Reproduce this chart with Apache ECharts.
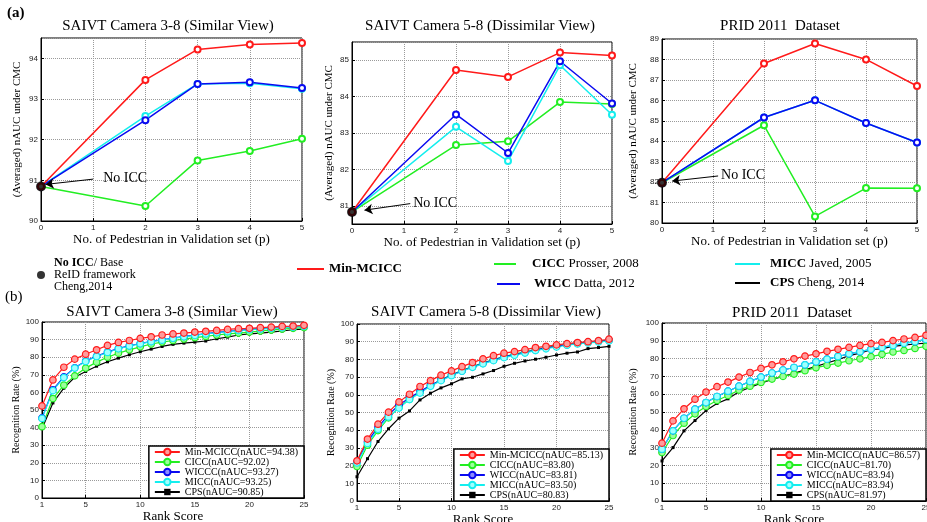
<!DOCTYPE html>
<html><head><meta charset="utf-8">
<script src="https://cdn.jsdelivr.net/npm/echarts@6/dist/echarts.min.js"></script>
<style>html,body{margin:0;padding:0;background:#fff}#c{width:927px;height:522px}</style>
</head><body><div id="c"></div>
<script>
// ---------- DATA ----------
const pValues = [0, 2, 3, 4, 5];
const ranks = [1, 2, 3, 4, 5, 6, 7, 8, 9, 10, 11, 12, 13, 14, 15, 16, 17, 18, 19, 20, 21, 22, 23, 24, 25];

const topTitles = ['SAIVT Camera 3-8 (Similar View)', 'SAIVT Camera 5-8 (Dissimilar View)', 'PRID 2011  Dataset'];
const bottomTitles = ['SAIVT Camera 3-8 (Similar View)', 'SAIVT Camera 5-8 (Dissimilar View)', 'PRID 2011  Dataset'];

// (a) nAUC vs number of pedestrians p
const simNoIcc = 90.85;
const simMin  = [90.85, 93.47, 94.22, 94.34, 94.38];
const simCicc = [90.85, 90.37, 91.49, 91.72, 92.02];
const simWicc = [90.85, 92.48, 93.37, 93.41, 93.27];
const simMicc = [90.85, 92.58, 93.37, 93.39, 93.25];

const disNoIcc = 80.83;
const disMin  = [80.83, 84.73, 84.54, 85.21, 85.13];
const disCicc = [80.83, 82.67, 82.77, 83.85, 83.80];
const disWicc = [80.83, 83.51, 82.45, 84.97, 83.81];
const disMicc = [80.83, 83.17, 82.23, 84.86, 83.50];

const pridNoIcc = 81.97;
const pridMin  = [81.97, 87.80, 88.78, 88.00, 86.70];
const pridCicc = [81.97, 84.78, 80.32, 81.71, 81.70];
const pridWicc = [81.97, 85.16, 86.00, 84.89, 83.94];
const pridMicc = [81.97, 85.16, 86.00, 84.89, 83.94];

// (b) CMC curves
const cmcSimNames = ['Min-MCICC(nAUC=94.38)', 'CICC(nAUC=92.02)', 'WICCC(nAUC=93.27)', 'MICC(nAUC=93.25)', 'CPS(nAUC=90.85)'];
const cmcSimMin  = [52.3, 67.1, 74.3, 78.9, 81.7, 84.2, 86.7, 88.4, 89.5, 90.7, 91.6, 92.6, 93.2, 93.7, 94.3, 94.7, 95.2, 95.8, 96.2, 96.4, 96.8, 97.1, 97.5, 97.7, 98.1];
const cmcSimCicc = [40.5, 56.5, 64.1, 69.4, 73.8, 77.2, 80.0, 82.3, 84.2, 85.9, 87.5, 88.6, 89.5, 90.3, 91.1, 91.8, 92.6, 93.2, 93.7, 94.3, 94.9, 95.4, 96.0, 96.4, 96.8];
const cmcSimWicc = [45.5, 61.5, 68.8, 74.0, 77.8, 80.6, 82.9, 85.0, 86.5, 87.8, 89.0, 89.9, 90.9, 91.8, 92.6, 93.4, 94.1, 94.7, 95.3, 95.8, 96.2, 96.6, 97.0, 97.3, 97.7];
const cmcSimMicc = [45.2, 61.0, 68.4, 73.8, 77.6, 80.4, 82.7, 84.8, 86.3, 87.6, 88.8, 89.7, 90.7, 91.6, 92.4, 93.2, 93.9, 94.5, 95.1, 95.6, 96.0, 96.4, 96.8, 97.1, 97.5];
const cmcSimCps  = [39.4, 54.0, 62.4, 68.6, 71.9, 74.9, 77.4, 79.5, 81.4, 83.1, 84.6, 86.1, 87.3, 88.0, 88.6, 89.2, 90.5, 91.4, 92.6, 93.2, 93.7, 94.3, 94.9, 95.6, 96.0];

const cmcDisNames = ['Min-MCICC(nAUC=85.13)', 'CICC(nAUC=83.80)', 'WICC(nAUC=83.81)', 'MICC(nAUC=83.50)', 'CPS(nAUC=80.83)'];
const cmcDisMin  = [22.7, 35.0, 43.4, 50.2, 56.0, 60.3, 64.7, 68.0, 71.1, 73.5, 75.9, 78.2, 80.3, 82.1, 83.5, 84.4, 85.5, 86.7, 87.4, 88.2, 88.9, 89.5, 90.0, 90.6, 91.4];
const cmcDisCicc = [19.5, 31.5, 39.8, 47.0, 53.0, 57.5, 61.5, 65.2, 68.5, 71.3, 73.8, 76.0, 78.0, 79.9, 81.6, 83.0, 84.3, 85.6, 86.7, 87.6, 88.4, 89.1, 89.7, 90.3, 90.9];
const cmcDisWicc = [22.0, 33.5, 41.7, 48.7, 54.3, 58.3, 61.8, 65.4, 68.4, 71.1, 73.5, 75.8, 77.8, 79.7, 81.4, 82.7, 84.0, 85.3, 86.5, 87.4, 88.3, 89.1, 89.7, 90.2, 90.8];
const cmcDisMicc = [21.5, 32.5, 40.5, 47.5, 52.5, 57.3, 61.0, 64.8, 68.0, 70.8, 73.3, 75.5, 77.5, 79.3, 81.0, 82.3, 83.6, 85.0, 86.0, 87.0, 88.0, 88.7, 89.3, 89.8, 90.4];
const cmcDisCps  = [13.7, 23.9, 33.6, 40.8, 46.8, 50.9, 57.1, 60.9, 63.9, 66.2, 69.0, 69.9, 71.8, 73.7, 76.1, 77.8, 79.1, 80.1, 81.2, 82.5, 83.5, 84.2, 86.1, 86.7, 87.4];

const cmcPridNames = ['Min-MCICC(nAUC=86.57)', 'CICC(nAUC=81.70)', 'WICC(nAUC=83.94)', 'MICC(nAUC=83.94)', 'CPS(nAUC=81.97)'];
const cmcPridMin  = [32.5, 45.0, 51.8, 57.2, 61.2, 64.2, 66.8, 69.6, 72.2, 74.5, 76.5, 78.2, 79.9, 81.4, 82.7, 84.1, 85.2, 86.3, 87.4, 88.4, 89.1, 90.1, 91.0, 91.9, 93.1];
const cmcPridCicc = [27.2, 36.8, 43.7, 49.0, 53.1, 56.5, 59.3, 62.3, 64.5, 66.6, 68.5, 70.0, 71.3, 73.2, 74.9, 76.2, 77.5, 78.8, 79.9, 81.1, 82.4, 83.7, 84.6, 85.7, 86.9];
const cmcPridWicc = [29.1, 39.4, 46.5, 51.6, 55.3, 58.7, 61.7, 64.5, 67.2, 69.6, 71.9, 73.6, 75.0, 76.5, 78.2, 79.7, 81.2, 82.7, 83.9, 85.2, 86.3, 87.4, 88.6, 89.5, 90.8];
const cmcPridMicc = [29.1, 39.4, 46.5, 51.6, 55.3, 58.7, 61.7, 64.5, 67.2, 69.6, 71.9, 73.6, 75.0, 76.5, 78.2, 79.7, 81.2, 82.7, 83.9, 85.2, 86.3, 87.4, 88.6, 89.5, 90.8];
const cmcPridCps  = [22.5, 30.0, 39.4, 45.2, 50.8, 54.8, 57.4, 61.4, 63.8, 66.2, 68.3, 70.0, 71.7, 73.7, 75.6, 77.5, 79.4, 81.6, 83.1, 85.0, 85.6, 86.9, 87.6, 88.2, 88.7];

// ---------- STYLE / LAYOUT ----------
const SERIF = '"Liberation Serif", "Times New Roman", serif';
const SANS = '"Liberation Sans", Arial, sans-serif';
const COL = {red: '#ff1a1a', green: '#22ee22', blue: '#0a0af0', cyan: '#14eeee', black: '#000000'};
const TINT = {red: '#ff9c9c', green: '#9cff9c', blue: '#8c8cff', cyan: '#a0ffff'};

const gridBoxes = [
  {left: 41, top: 38, width: 261, height: 183},
  {left: 352, top: 42, width: 260, height: 182},
  {left: 662, top: 39, width: 255, height: 184},
  {left: 42, top: 322, width: 262, height: 176},
  {left: 357, top: 324, width: 252, height: 177},
  {left: 662, top: 323, width: 264, height: 178}
];
const grid = gridBoxes.map(g => Object.assign({show: true, borderColor: '#000', borderWidth: 1, backgroundColor: '#fff', containLabel: false, outerBoundsMode: 'none'}, g));

function makeAxis(gi, o) {
  return {
    type: 'value', gridIndex: gi, min: o.min, max: o.max, interval: o.interval, splitNumber: o.splitNumber,
    name: o.name, nameLocation: 'middle', nameGap: o.nameGap,
    nameTextStyle: {fontFamily: SERIF, fontSize: o.nameSize, color: '#000'},
    axisLine: {show: true, onZero: false, lineStyle: {color: '#000', width: 1}},
    axisTick: {show: true, inside: true, length: 3, lineStyle: {color: '#000'}},
    axisLabel: {fontFamily: SANS, fontSize: 8, color: '#222', margin: 3,
      showMinLabel: o.showMin !== false, showMaxLabel: o.showMax !== false},
    splitLine: {show: true, lineStyle: {color: '#9a9a9a', type: 'dotted', width: 1}}
  };
}

const xAxis = [], yAxis = [];
const pName = 'No. of Pedestrian in Validation set (p)';
const aName = '(Averaged) nAUC under CMC';
[0, 1, 2].forEach(gi => xAxis.push(makeAxis(gi, {min: 0, max: 5, interval: 1, name: pName, nameGap: 11, nameSize: 13})));
yAxis.push(makeAxis(0, {min: 90, max: 94.5, interval: 1, name: aName, nameGap: 18, nameSize: 11, showMax: false}));
yAxis.push(makeAxis(1, {min: 80.5, max: 85.5, splitNumber: 5, name: aName, nameGap: 17, nameSize: 11, showMin: false, showMax: false}));
yAxis.push(makeAxis(2, {min: 80, max: 89, interval: 1, name: aName, nameGap: 23, nameSize: 11}));
[[3, 9], [4, 10], [5, 10]].forEach(([gi, g]) => xAxis.push(makeAxis(gi, {min: 1, max: 25, splitNumber: 5, name: 'Rank Score', nameGap: g, nameSize: 13})));
[[3, 21], [4, 20], [5, 24]].forEach(([gi, g]) => yAxis.push(makeAxis(gi, {min: 0, max: 100, interval: 10, name: 'Recognition Rate (%)', nameGap: g, nameSize: 10})));

// ---------- SERIES ----------
const series = [];
const topPlots = [
  {noIcc: simNoIcc, cicc: simCicc, micc: simMicc, wicc: simWicc, min: simMin, arrow: [[1.0, 91.03], [0.09, 90.9]], gap: 10},
  {noIcc: disNoIcc, cicc: disCicc, micc: disMicc, wicc: disWicc, min: disMin, arrow: [[1.12, 81.06], [0.24, 80.88]], gap: 3},
  {noIcc: pridNoIcc, cicc: pridCicc, micc: pridMicc, wicc: pridWicc, min: pridMin, arrow: [[1.1, 82.3], [0.2, 82.05]], gap: 3}
];
const topKeys = [['cicc', 'CICC', 'green'], ['micc', 'MICC', 'cyan'], ['wicc', 'WICC', 'blue'], ['min', 'Min-MCICC', 'red']];
topPlots.forEach((tp, gi) => {
  topKeys.forEach(([k, name, c]) => {
    series.push({
      type: 'line', name: name, xAxisIndex: gi, yAxisIndex: gi,
      data: pValues.map((x, i) => [x, tp[k][i]]),
      symbol: 'emptyCircle', symbolSize: 6, color: COL[c],
      lineStyle: {width: 1.5, color: COL[c]}, itemStyle: {color: COL[c], borderWidth: 1.3}
    });
  });
  series.push({
    type: 'scatter', name: 'No ICC', xAxisIndex: gi, yAxisIndex: gi,
    data: [[pValues[0], tp.noIcc]], symbolSize: 10, itemStyle: {color: '#000'}, z: 5,
    markLine: {
      silent: true, symbol: ['none', 'arrow'], symbolSize: 8,
      lineStyle: {color: '#000', width: 1, type: 'solid'},
      label: {show: true, position: 'start', formatter: 'No ICC', fontFamily: SERIF, fontSize: 14, color: '#000', distance: tp.gap},
      emphasis: {disabled: true},
      data: [[{coord: tp.arrow[0]}, {coord: tp.arrow[1]}]]
    }
  });
});
// CPS key entry for the shared legend (no marks in panel a)
series.push({type: 'line', name: 'CPS', xAxisIndex: 0, yAxisIndex: 0, data: [], color: '#000', lineStyle: {color: '#000'}});

const bottomPlots = [
  {gi: 3, names: cmcSimNames, sets: [cmcSimMin, cmcSimCicc, cmcSimWicc, cmcSimMicc, cmcSimCps]},
  {gi: 4, names: cmcDisNames, sets: [cmcDisMin, cmcDisCicc, cmcDisWicc, cmcDisMicc, cmcDisCps]},
  {gi: 5, names: cmcPridNames, sets: [cmcPridMin, cmcPridCicc, cmcPridWicc, cmcPridMicc, cmcPridCps]}
];
const bottomColors = ['red', 'green', 'blue', 'cyan', 'black'];
const drawOrder = [4, 1, 2, 3, 0];
bottomPlots.forEach(bp => {
  drawOrder.forEach(j => {
    const c = bottomColors[j];
    const isCps = c === 'black';
    series.push({
      type: 'line', name: bp.names[j], xAxisIndex: bp.gi, yAxisIndex: bp.gi,
      data: ranks.map((r, i) => [r, bp.sets[j][i]]),
      symbol: isCps ? 'rect' : 'circle', symbolSize: isCps ? 3 : 6.5,
      color: COL[c],
      lineStyle: {width: 1.2, color: COL[c]},
      itemStyle: isCps ? {color: '#000'} : {color: TINT[c], borderColor: COL[c], borderWidth: 1.2}
    });
  });
});

// ---------- LEGENDS ----------
const legend = [];
const bottomLegendPos = [{right: 623, bottom: 24}, {right: 318, bottom: 21}, {right: 1, bottom: 21}];
bottomPlots.forEach((bp, k) => {
  legend.push(Object.assign({
    orient: 'vertical', data: bp.names.slice(), selectedMode: false,
    backgroundColor: '#fff', borderColor: '#000', borderWidth: 1.5, borderRadius: 0,
    padding: [1, 6, 1, 5], itemGap: 0, itemWidth: 25, itemHeight: 8,
    textStyle: {fontFamily: SERIF, fontSize: 10, lineHeight: 10, color: '#000'}
  }, bottomLegendPos[k]));
});
const richB = (size) => ({b: {fontFamily: SERIF, fontSize: size, fontWeight: 'bold', color: '#000'}});
const keyItems = [
  {name: 'No ICC', left: 37, top: 257, icon: 'circle', w: 8, h: 8, size: 12, lh: 12, pad: 4,
   fmt: '{b|No ICC}/ Base\nReID framework\nCheng,2014'},
  {name: 'Min-MCICC', left: 297, top: 262, icon: 'rect', w: 27, h: 2, size: 13, lh: 14, pad: 0, fmt: '{b|Min-MCICC}'},
  {name: 'CICC', left: 494, top: 257, icon: 'rect', w: 22, h: 2, size: 13, lh: 14, pad: 11, fmt: '{b|CICC} Prosser, 2008'},
  {name: 'WICC', left: 497, top: 277, icon: 'rect', w: 23, h: 2, size: 13, lh: 14, pad: 9, fmt: '{b|WICC} Datta, 2012'},
  {name: 'MICC', left: 735, top: 257, icon: 'rect', w: 25, h: 2, size: 13, lh: 14, pad: 5, fmt: '{b|MICC} Javed, 2005'},
  {name: 'CPS', left: 735, top: 276, icon: 'rect', w: 25, h: 2, size: 13, lh: 14, pad: 5, fmt: '{b|CPS} Cheng, 2014'}
];
keyItems.forEach(it => {
  legend.push({
    left: it.left, top: it.top, padding: 0, selectedMode: false,
    data: [{name: it.name, icon: it.icon}], itemWidth: it.w, itemHeight: it.h,
    formatter: () => it.fmt,
    textStyle: {fontFamily: SERIF, fontSize: it.size, lineHeight: it.lh, color: '#000', padding: [0, 0, 0, it.pad], rich: richB(it.size)}
  });
});

// ---------- TITLES ----------
const titleStyle = {fontFamily: SERIF, fontSize: 15, fontWeight: 'normal', color: '#000'};
const title = [
  {text: topTitles[0], left: 168, top: 19, textAlign: 'center'},
  {text: topTitles[1], left: 480, top: 19, textAlign: 'center'},
  {text: topTitles[2], left: 780, top: 19, textAlign: 'center'},
  {text: bottomTitles[0], left: 172, top: 305, textAlign: 'center'},
  {text: bottomTitles[1], left: 486, top: 305, textAlign: 'center'},
  {text: bottomTitles[2], left: 792, top: 306, textAlign: 'center'}
].map(t => Object.assign({padding: 0, textStyle: titleStyle}, t));
title.push({text: '(a)', left: 7, top: 6, padding: 0, textStyle: {fontFamily: SERIF, fontSize: 15, fontWeight: 'bold', color: '#000'}});
title.push({text: '(b)', left: 5, top: 290, padding: 0, textStyle: {fontFamily: SERIF, fontSize: 15, fontWeight: 'normal', color: '#000'}});

const chart = echarts.init(document.getElementById('c'), null, {renderer: 'canvas'});
chart.setOption({
  animation: false, backgroundColor: '#fff',
  title, grid, xAxis, yAxis, legend, series
});
</script>
</body></html>
